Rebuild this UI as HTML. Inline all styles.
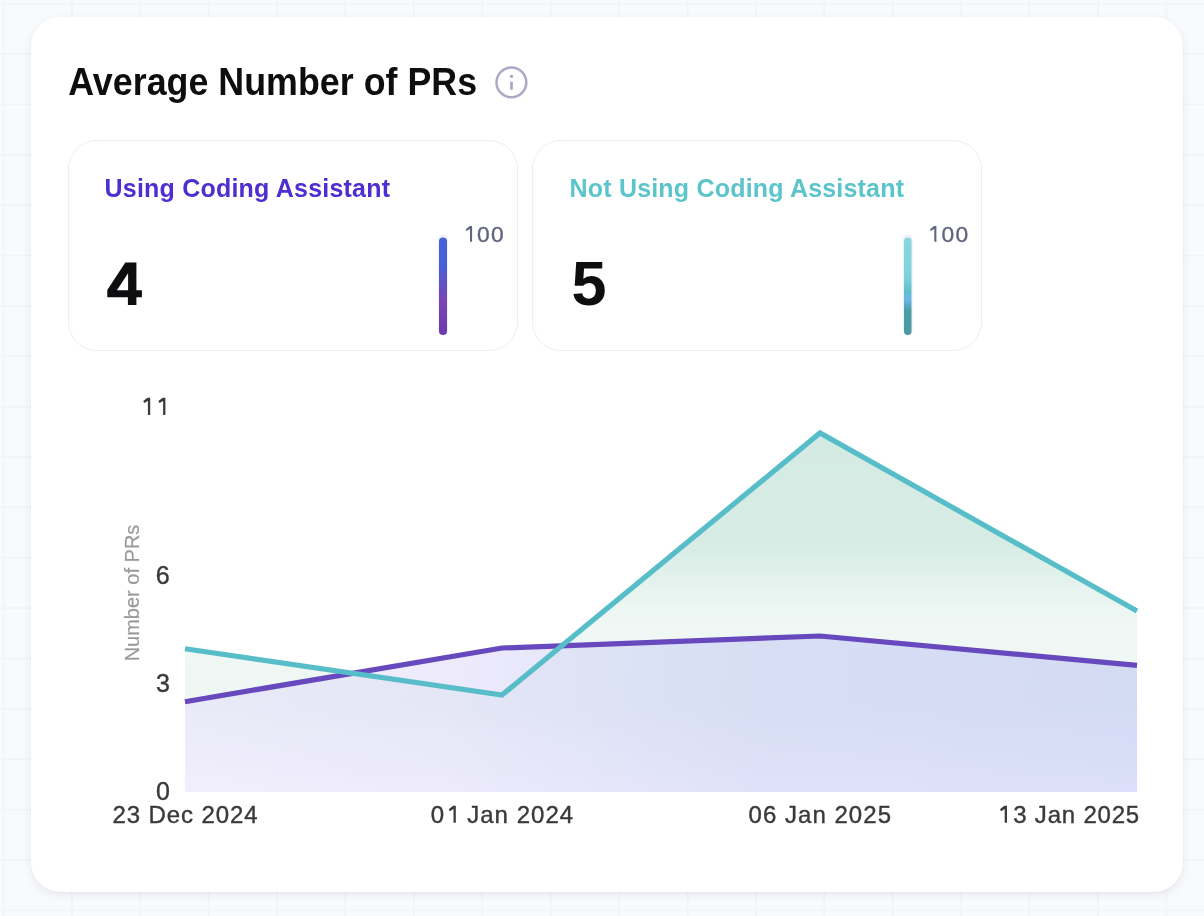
<!DOCTYPE html>
<html>
<head>
<meta charset="utf-8">
<style>
html,body{margin:0;padding:0;}
body{width:1204px;height:916px;overflow:hidden;position:relative;background:#f9fafd;font-family:"Liberation Sans",sans-serif;}
.grid{position:absolute;left:0;top:0;width:1204px;height:916px;}
.card{position:absolute;left:31px;top:17px;width:1152px;height:875px;background:#fff;border-radius:29px;box-shadow:0 3px 10px rgba(20,25,60,0.07),0 1px 2px rgba(20,25,60,0.04);}
.stat{position:absolute;top:140px;height:211px;border:1px solid #eeeef6;border-radius:29px;background:#fff;box-sizing:border-box;}
svg.main{position:absolute;left:0;top:0;will-change:transform;}
</style>
</head>
<body>
<svg class="grid" width="1204" height="916">
  <defs>
    <pattern id="gp" x="2.5" y="2.7" width="68.4" height="50.37" patternUnits="userSpaceOnUse">
      <rect x="0" y="0" width="2" height="50.37" fill="#f3f4f8"/>
      <rect x="0" y="0" width="68.4" height="2" fill="#f3f4f8"/>
    </pattern>
  </defs>
  <rect x="0" y="0" width="1204" height="916" fill="url(#gp)"/>
</svg>
<div class="card"></div>
<div class="stat" style="left:68px;width:450px;"></div>
<div class="stat" style="left:532px;width:450px;"></div>
<svg class="main" width="1204" height="916" font-family="Liberation Sans, sans-serif">
  <defs>
    <linearGradient id="bar1" x1="0" y1="0" x2="0" y2="1">
      <stop offset="0" stop-color="#4463d8"/>
      <stop offset="0.3" stop-color="#4860d6"/>
      <stop offset="0.65" stop-color="#7a45b3"/>
      <stop offset="1" stop-color="#6a3aab"/>
    </linearGradient>
    <linearGradient id="bar2" x1="0" y1="0" x2="0" y2="1">
      <stop offset="0" stop-color="#88d6df"/>
      <stop offset="0.4" stop-color="#80d2da"/>
      <stop offset="0.55" stop-color="#5ec0cb"/>
      <stop offset="0.63" stop-color="#6ab8e4"/>
      <stop offset="0.75" stop-color="#4d9ea6"/>
      <stop offset="1" stop-color="#4a98a2"/>
    </linearGradient>
    <linearGradient id="tealFill" x1="0" y1="433" x2="0" y2="792" gradientUnits="userSpaceOnUse">
      <stop offset="0" stop-color="#3ca480" stop-opacity="0.22"/>
      <stop offset="0.3" stop-color="#3ca480" stop-opacity="0.21"/>
      <stop offset="0.4" stop-color="#3ca480" stop-opacity="0.15"/>
      <stop offset="0.5" stop-color="#3ca480" stop-opacity="0.085"/>
      <stop offset="0.76" stop-color="#3ca480" stop-opacity="0.08"/>
      <stop offset="1" stop-color="#3ca480" stop-opacity="0"/>
    </linearGradient>
    <linearGradient id="purpFill" x1="185" y1="0" x2="1137" y2="0" gradientUnits="userSpaceOnUse">
      <stop offset="0" stop-color="#e2d9fc" stop-opacity="0.45"/>
      <stop offset="0.25" stop-color="#d9d3f8" stop-opacity="0.45"/>
      <stop offset="0.6" stop-color="#b9bef3" stop-opacity="0.45"/>
      <stop offset="1" stop-color="#b1b8f2" stop-opacity="0.45"/>
    </linearGradient>
  </defs>
  <!-- title -->
  <text transform="translate(68.3 95) scale(0.925 1)" font-size="38.7" font-weight="700" fill="#0e0e10" textLength="442" lengthAdjust="spacing">Average Number of PRs</text>
  <!-- info icon -->
  <g fill="none" stroke="#a9abc4" stroke-width="2.5" stroke-linecap="round">
    <circle cx="511.4" cy="82.4" r="14.9"/>
    <line x1="511.5" y1="82.8" x2="511.5" y2="88.6" stroke-width="2.8"/>
    <line x1="511.5" y1="76.4" x2="511.52" y2="76.4" stroke-width="3.4"/>
  </g>
  <!-- card 1 -->
  <text x="104.5" y="197" font-size="25" font-weight="700" fill="#4d2ed0" textLength="285.5" lengthAdjust="spacing">Using Coding Assistant</text>
  <path fill="#0e0e10" fill-rule="evenodd" d="M125.3 262.4 H136.4 V290.3 H141.9 V297.3 H136.4 V305.1 H127.9 V297.3 H107.3 V289.9 Z M128.1 273.2 V290.2 H116.9 Z"/>
  <rect x="438" y="234.8" width="10" height="100.5" rx="5" fill="#f1f0f9"/>
  <rect x="439" y="237.5" width="8" height="97.5" rx="4" fill="url(#bar1)"/>
  <text x="477.1 491.1" y="241.7" font-size="22.8" fill="#60647e" stroke="#60647e" stroke-width="0.35">00</text><g fill="#60647e"><polygon points="469.8,226.0 472.1,226.0 472.1,241.8 470.0,241.8 470.0,229.1 466.3,231.1 465.8,229.3"/></g>
  <!-- card 2 -->
  <text x="569.5" y="197" font-size="25" font-weight="700" fill="#5cc4cb" textLength="334.5" lengthAdjust="spacing">Not Using Coding Assistant</text>
  <text x="571.5" y="305.3" font-size="63" font-weight="700" fill="#0e0e10">5</text>
  <rect x="902.7" y="234.8" width="10" height="100.5" rx="5" fill="#f1f0f9"/>
  <rect x="904" y="237.5" width="7.5" height="97.5" rx="3.75" fill="url(#bar2)"/>
  <text x="941.4 955.4" y="241.7" font-size="22.8" fill="#60647e" stroke="#60647e" stroke-width="0.35">00</text><g fill="#60647e"><polygon points="934.1,226.0 936.4,226.0 936.4,241.8 934.3,241.8 934.3,229.1 930.6,231.1 930.1,229.3"/></g>
  <!-- chart -->
  <path d="M185 648.7 L502 695 L820 433 L1137 611 L1137 792 L185 792 Z" fill="url(#tealFill)"/>
  <path d="M185 701.7 L502 648 L820 636 L1137 665.3 L1137 792 L185 792 Z" fill="url(#purpFill)"/>
  <polyline points="185,701.7 502,648 820,636 1137,665.3" fill="none" stroke="#6749bd" stroke-width="5.2"/>
  <polyline points="185,648.7 502,695 820,433 1137,611" fill="none" stroke="#57bdc9" stroke-width="5.2"/>
  <!-- y ticks -->
  <g font-size="25" fill="#3a3a3a" stroke="#3a3a3a" stroke-width="0.4" text-anchor="end">
    <text x="169.6" y="584">6</text>
    <text x="169.8" y="691.7">3</text>
    <text x="169.8" y="799.8">0</text>
  </g>
  <g fill="#3a3a3a">
    <polygon points="147.5,397.7 150.2,397.7 150.2,414.9 147.9,414.9 147.9,400.9 144.2,403.1 143.2,401.1"/>
    <polygon points="162.7,397.7 165.4,397.7 165.4,414.9 163.1,414.9 163.1,400.9 159.4,403.1 158.4,401.1"/>
  </g>
  <text transform="translate(139 593) rotate(-90)" font-size="20" fill="#9a9a9a" stroke="#9a9a9a" stroke-width="0.2" text-anchor="middle">Number of PRs</text>
  <!-- x ticks -->
  <g font-size="24" fill="#3a3a3a" stroke="#3a3a3a" stroke-width="0.4" lengthAdjust="spacing">
    <text x="112.5" y="822.8" textLength="145">23 Dec 2024</text>
    <text x="430.7" y="822.8" textLength="142.5">0&#x2007; Jan 2024</text>
    <text x="748.5" y="822.8" textLength="142.5">06 Jan 2025</text>
    <text x="999.1" y="822.8" textLength="140.1">&#x2007;3 Jan 2025</text>
  </g>
  <g fill="#3a3a3a"><polygon points="453.1,805.8 455.8,805.8 455.8,822.8 453.5,822.8 453.5,809.0 449.8,811.2 448.8,809.2"/><polygon points="1004.3,805.8 1007.0,805.8 1007.0,822.8 1004.7,822.8 1004.7,809.0 1001.0,811.2 1000.0,809.2"/></g>
</svg>
</body>
</html>
